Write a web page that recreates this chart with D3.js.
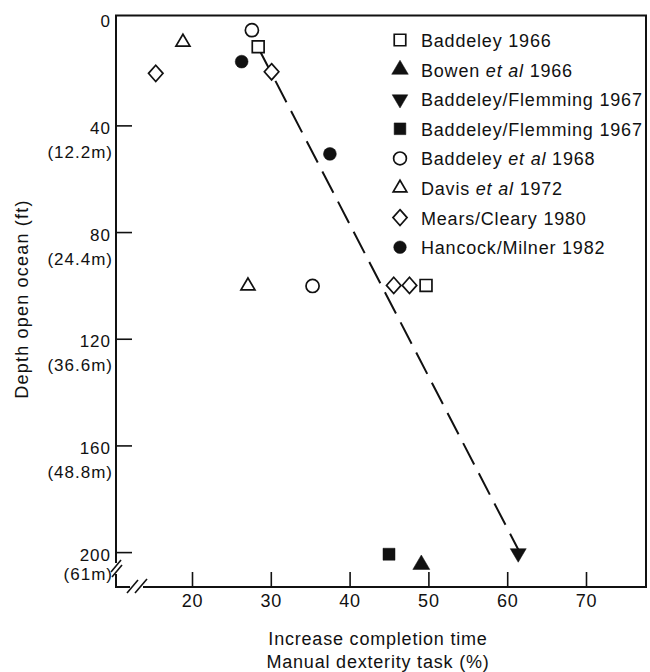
<!DOCTYPE html>
<html>
<head>
<meta charset="utf-8">
<script src="https://cdn.jsdelivr.net/npm/d3@7"></script>
<style>
  body { margin: 0; background: #fff; }
  svg { display: block; font-family: "Liberation Sans", Arial, sans-serif; }
</style>
</head>
<body>
<div id="chart"></div>
<script>
// series shown in the legend, top to bottom
const seriesNames = [
  "Baddeley 1966",
  "Bowen et al 1966",
  "Baddeley/Flemming 1967",
  "Baddeley/Flemming 1967",
  "Baddeley et al 1968",
  "Davis et al 1972",
  "Mears/Cleary 1980",
  "Hancock/Milner 1982"
];

// x = increase in completion time (%), y = depth (ft)
const baddeley1966X = [28.4, 49.7];
const baddeley1966Y = [10.5, 100];
const bowen1966X = [49.1];
const bowen1966Y = [204.7];
const flemmingTriX = [61.4];
const flemmingTriY = [200.4];
const flemmingSqX = [45.0];
const flemmingSqY = [200.8];
const baddeley1968X = [27.6, 35.3];
const baddeley1968Y = [4.3, 100.2];
const davis1972X = [18.85, 27.1];
const davis1972Y = [8.8, 100.2];
const mears1980X = [15.4, 30.1, 45.6, 47.6];
const mears1980Y = [20.5, 19.9, 100, 100];
const hancock1982X = [26.3, 37.5];
const hancock1982Y = [16.1, 50.7];

// dashed trend line
const trendX = [28.6, 61.4];
const trendY = [12, 199];

const xTicks = [20, 30, 40, 50, 60, 70];
const yTicks = [0, 40, 80, 120, 160, 200];
const yTickMetres = ["", "(12.2m)", "(24.4m)", "(36.6m)", "(48.8m)", "(61m)"];

const seriesX = [baddeley1966X, bowen1966X, flemmingTriX, flemmingSqX, baddeley1968X, davis1972X, mears1980X, hancock1982X];
const seriesY = [baddeley1966Y, bowen1966Y, flemmingTriY, flemmingSqY, baddeley1968Y, davis1972Y, mears1980Y, hancock1982Y];

const width = 650, height = 672;
const frame = {left: 116, right: 646, top: 15.5, bottom: 587};

const x = d3.scaleLinear().domain([20, 70]).range([192, 586]);
const y = d3.scaleLinear().domain([0, 200]).range([18.7, 552.1]);

// custom marker shapes
const triUp = {
  draw(ctx, size) {
    const w = Math.sqrt(size), h = w * 0.85;
    ctx.moveTo(0, -2 * h / 3);
    ctx.lineTo(w / 2, h / 3);
    ctx.lineTo(-w / 2, h / 3);
    ctx.closePath();
  }
};
const triDown = {
  draw(ctx, size) {
    const w = Math.sqrt(size), h = w * 0.85;
    ctx.moveTo(0, 2 * h / 3);
    ctx.lineTo(w / 2, -h / 3);
    ctx.lineTo(-w / 2, -h / 3);
    ctx.closePath();
  }
};
const diamond = {
  draw(ctx, size) {
    const w = Math.sqrt(size) / 2, h = w * 1.12;
    ctx.moveTo(0, -h);
    ctx.lineTo(w, 0);
    ctx.lineTo(0, h);
    ctx.lineTo(-w, 0);
    ctx.closePath();
  }
};

const markerStyles = [
  {type: d3.symbolSquare, size: 140, filled: false},
  {type: triUp, size: 289, filled: true},
  {type: triDown, size: 256, filled: true},
  {type: d3.symbolSquare, size: 144, filled: true},
  {type: d3.symbolCircle, size: 135, filled: false},
  {type: triUp, size: 196, filled: false},
  {type: diamond, size: 210, filled: false},
  {type: d3.symbolCircle, size: 130, filled: true}
];

const points = [];
seriesX.forEach((xs, s) => xs.forEach((v, i) => points.push({s, px: v, py: seriesY[s][i]})));

const svg = d3.select("#chart").append("svg")
  .attr("width", width)
  .attr("height", height)
  .attr("viewBox", [0, 0, width, height]);

const ink = "#111";

// x axis, ticks pointing into the plot
const gx = svg.append("g")
  .attr("transform", `translate(0,${frame.bottom})`)
  .call(d3.axisBottom(x).tickValues(xTicks).tickSizeInner(-15).tickSizeOuter(0).tickPadding(7))
  .call(g => g.select(".domain").remove());
gx.selectAll(".tick line").attr("stroke", ink).attr("stroke-width", 1.6);
gx.selectAll(".tick text")
  .attr("fill", ink)
  .attr("font-size", 18)
  .attr("letter-spacing", 0.8)
  .attr("font-family", "Liberation Sans, Arial, sans-serif");

// y axis with two-line labels (ft and metres)
const gy = svg.append("g")
  .attr("transform", `translate(${frame.left},0)`)
  .call(d3.axisLeft(y).tickValues(yTicks).tickSizeInner(-16).tickSizeOuter(0).tickPadding(6).tickFormat(""))
  .call(g => g.select(".domain").remove());
gy.selectAll(".tick line")
  .attr("stroke", ink).attr("stroke-width", 1.6)
  .filter(d => d === 0).remove();
gy.selectAll(".tick text").each(function(d, i) {
  const t = d3.select(this)
    .attr("fill", ink)
    .attr("font-size", 17)
    .attr("letter-spacing", 1)
    .attr("font-family", "Liberation Sans, Arial, sans-serif")
    .attr("dy", null);
  t.append("tspan").attr("x", -5).attr("y", 8).text(d);
  if (yTickMetres[i]) {
    t.append("tspan").attr("x", -3).attr("y", d === 200 ? 27 : 32).text(yTickMetres[i]);
  }
});

// frame with axis breaks at the bottom-left corner
const frameG = svg.append("g").attr("stroke", ink).attr("stroke-width", 2).attr("fill", "none");
frameG.append("path").attr("d", d3.line()([
  [frame.left, 563], [frame.left, frame.top], [frame.right, frame.top], [frame.right, frame.bottom], [143, frame.bottom]
]));
frameG.append("path").attr("d", d3.line()([[frame.left, 574], [frame.left, frame.bottom], [130, frame.bottom]]));
frameG.append("g").attr("stroke-width", 1.6).selectAll("line")
  .data([
    [[111, 572], [121, 560]], [[112, 577], [122, 565]],
    [[127, 593], [138, 580]], [[135, 593], [147, 579]]
  ])
  .join("line")
    .attr("x1", d => d[0][0]).attr("y1", d => d[0][1])
    .attr("x2", d => d[1][0]).attr("y2", d => d[1][1]);

// axis titles
svg.append("text")
  .attr("transform", "translate(28,299) rotate(-90)")
  .attr("text-anchor", "middle")
  .attr("font-size", 18)
  .attr("letter-spacing", 1.2)
  .attr("fill", ink)
  .text("Depth open ocean (ft)");

svg.append("text")
  .attr("x", 378).attr("y", 645)
  .attr("text-anchor", "middle")
  .attr("font-size", 18)
  .attr("letter-spacing", 0.8)
  .attr("fill", ink)
  .text("Increase completion time");
svg.append("text")
  .attr("x", 378).attr("y", 668)
  .attr("text-anchor", "middle")
  .attr("font-size", 18)
  .attr("letter-spacing", 0.8)
  .attr("fill", ink)
  .text("Manual dexterity task (%)");

// dashed trend line
svg.append("path")
  .datum(trendX.map((v, i) => [v, trendY[i]]))
  .attr("fill", "none")
  .attr("stroke", ink)
  .attr("stroke-width", 2)
  .attr("stroke-dasharray", "24,10")
  .attr("d", d3.line().x(d => x(d[0])).y(d => y(d[1])));

// data markers
const marker = d => d3.symbol().type(markerStyles[d.s].type).size(markerStyles[d.s].size)();
svg.append("g")
  .selectAll("path")
  .data(points)
  .join("path")
    .attr("transform", d => `translate(${x(d.px)},${y(d.py)})`)
    .attr("d", marker)
    .attr("fill", d => markerStyles[d.s].filled ? ink : "#fff")
    .attr("stroke", ink)
    .attr("stroke-width", d => markerStyles[d.s].filled ? 0.5 : 1.7);

// legend
const legend = svg.append("g")
  .attr("font-size", 18)
  .attr("letter-spacing", 0.8)
  .attr("fill", ink);
const rows = legend.selectAll("g")
  .data(seriesNames)
  .join("g")
    .attr("transform", (d, i) => `translate(400,${40 + i * 29.6})`);
rows.append("path")
  .attr("d", (d, i) => d3.symbol().type(markerStyles[i].type).size(markerStyles[i].size * 0.95)())
  .attr("fill", (d, i) => markerStyles[i].filled ? ink : "#fff")
  .attr("stroke", ink)
  .attr("stroke-width", (d, i) => markerStyles[i].filled ? 0.5 : 1.7);
rows.append("text")
  .attr("x", 21)
  .attr("dy", 7)
  .each(function(d) {
    const t = d3.select(this);
    d.split(/(et al)/).forEach(part => {
      if (!part) return;
      t.append("tspan")
        .attr("font-style", part === "et al" ? "italic" : null)
        .text(part);
    });
  });
</script>
</body>
</html>
